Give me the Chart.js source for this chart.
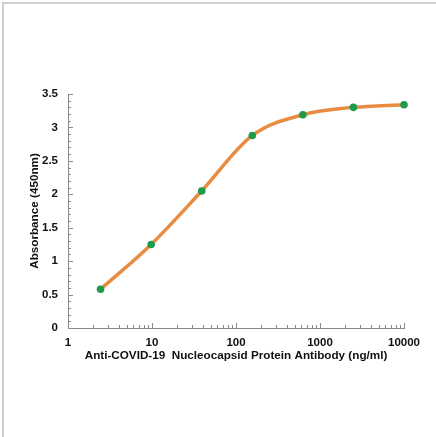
<!DOCTYPE html>
<html>
<head>
<meta charset="utf-8">
<script src="https://cdn.jsdelivr.net/npm/chart.js@4.4.0/dist/chart.umd.min.js"></script>
<style>
  html, body { margin: 0; padding: 0; background: #fff; }
  #wrap { width: 436px; height: 437px; position: relative; }
</style>
</head>
<body>
<div id="wrap"><canvas id="curve"></canvas></div>
<script>
// antibody concentration (ng/ml), 4-fold dilutions
const concentrations = [2.44, 9.77, 39.06, 156.25, 625, 2500, 10000];
const absorbance = [0.58, 1.25, 2.05, 2.88, 3.19, 3.30, 3.34];
const xTickValues = [1, 10, 100, 1000, 10000];
const yTickValues = [0, 0.5, 1, 1.5, 2, 2.5, 3, 3.5];

const FONT = 'Liberation Sans, Arial, sans-serif';

// frame + minor ticks, drawn from the scales
const decorations = {
    id: 'decorations',
    beforeDraw(chart) {
        const ctx = chart.ctx;
        ctx.save();
        ctx.fillStyle = '#ffffff';
        ctx.fillRect(0, 0, chart.width, chart.height);
        ctx.fillStyle = '#cfcfcf';
        ctx.fillRect(2, 2, chart.width - 2, 2);
        ctx.fillRect(2, 2, 2, chart.height - 2);
        ctx.restore();
    },
    afterDraw(chart) {
        const ctx = chart.ctx;
        const x = chart.scales.x;
        const y = chart.scales.y;
        const area = chart.chartArea;
        ctx.save();
        ctx.strokeStyle = '#8a8a8a';
        ctx.lineWidth = 1;
        ctx.beginPath();
        // x minor ticks 2..9 in each decade
        for (let d = 1; d < 10000; d *= 10) {
            for (let m = 1; m <= 10; m++) {
                const px = Math.round(x.getPixelForValue(d * m)) + 0.5;
                const len = m === 1 || m === 10 ? 5 : 3;
                ctx.moveTo(px, area.bottom);
                ctx.lineTo(px, area.bottom - len);
            }
        }
        // y minor ticks every 0.1
        for (let i = 0; i <= 35; i++) {
            const py = Math.round(y.getPixelForValue(i / 10)) + 0.5;
            const len = i % 5 === 0 ? 5 : 3;
            ctx.moveTo(area.left, py);
            ctx.lineTo(area.left + len, py);
        }
        ctx.stroke();
        ctx.restore();
    }
};

new Chart(document.getElementById('curve'), {
    type: 'line',
    data: {
        labels: concentrations,
        datasets: [{
            data: concentrations.map((c, i) => ({ x: c, y: absorbance[i] })),
            borderColor: '#e88c42',
            borderWidth: 3.5,
            cubicInterpolationMode: 'monotone',
            pointRadius: 3.8,
            pointBackgroundColor: '#1f9a4a',
            pointBorderColor: '#1f9a4a',
            pointBorderWidth: 0,
            fill: false,
            clip: false
        }]
    },
    options: {
        responsive: true,
        maintainAspectRatio: false,
        animation: false,
        layout: { padding: { top: 94, right: 32, left: 0, bottom: 0 } },
        plugins: { legend: { display: false }, tooltip: { enabled: false } },
        scales: {
            x: {
                type: 'logarithmic',
                min: 1,
                max: 10000,
                afterBuildTicks: (scale) => { scale.ticks = xTickValues.map(v => ({ value: v })); },
                afterFit: (scale) => { scale.height = 109; },
                grid: { display: false, drawTicks: false },
                border: { display: true, color: '#8a8a8a', width: 1 },
                ticks: {
                    padding: 8,
                    color: '#111',
                    font: { family: FONT, size: 11.5, weight: 'bold' },
                    maxRotation: 0,
                    callback: (v) => String(v)
                },
                title: {
                    display: true,
                    text: 'Anti-COVID-19  Nucleocapsid Protein Antibody (ng/ml)',
                    color: '#111',
                    font: { family: FONT, size: 11.7, weight: 'bold' },
                    padding: { top: 0, bottom: 74 }
                }
            },
            y: {
                min: 0,
                max: 3.5,
                afterBuildTicks: (scale) => { scale.ticks = yTickValues.map(v => ({ value: v })); },
                afterFit: (scale) => { scale.width = 68; },
                grid: { display: false, drawTicks: false },
                border: { display: true, color: '#8a8a8a', width: 1 },
                ticks: {
                    padding: 10,
                    color: '#111',
                    font: { family: FONT, size: 11.5, weight: 'bold' },
                    callback: (v) => String(v)
                },
                title: {
                    display: true,
                    text: 'Absorbance (450nm)',
                    color: '#111',
                    font: { family: FONT, size: 11.7, weight: 'bold' },
                    padding: { top: 28, bottom: 0 }
                }
            }
        }
    },
    plugins: [decorations]
});
</script>
</body>
</html>
